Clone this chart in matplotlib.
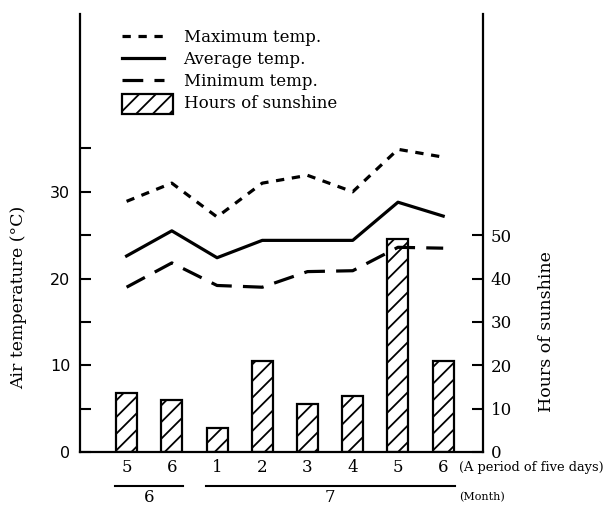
import numpy as np
import matplotlib
matplotlib.use('Agg')
import matplotlib.pyplot as plt
import matplotlib.patches as mpatches
import matplotlib.transforms as mtransforms
from matplotlib.legend_handler import HandlerPatch

# values
periods = ['5', '6', '1', '2', '3', '4', '5', '6']
months = ['6', '6', '7', '7', '7', '7', '7', '7']
maxTemp = [28.9, 31.0, 27.1, 31.0, 31.9, 30.0, 34.9, 34.0]
avgTemp = [22.6, 25.5, 22.4, 24.4, 24.4, 24.4, 28.8, 27.2]
minTemp = [19.0, 21.8, 19.2, 19.0, 20.8, 20.9, 23.6, 23.5]
sunshine = [13.6, 11.9, 5.6, 20.9, 11.0, 12.9, 49.1, 20.9]

plt.rcParams['font.family'] = 'DejaVu Serif'
plt.rcParams['font.size'] = 12
plt.rcParams['hatch.linewidth'] = 1.3


def bigBox(legend, orig_handle, xdescent, ydescent, width, height, fontsize):
    # the sunshine key is wider and taller than the line keys
    return mpatches.Rectangle((-xdescent, -ydescent - 0.55 * height), width * 1.23, height * 1.75)


def main():
    x = np.arange(len(periods))
    fig = plt.figure(figsize=(6.07, 5.05), dpi=100)
    ax = fig.add_axes([80 / 607, 1 - 452 / 505, 403 / 607, 438 / 505])
    ax2 = ax.twinx()
    # bars behind the lines
    ax.set_zorder(ax2.get_zorder() + 1)
    ax.patch.set_visible(False)

    bars = ax2.bar(x, sunshine, width=0.465, color='white', edgecolor='black',
                   linewidth=1.6, hatch='//')
    lMax, = ax.plot(x, maxTemp, color='black', lw=2.3, dashes=(2.6, 2.4))
    lAvg, = ax.plot(x, avgTemp, color='black', lw=2.3)
    lMin, = ax.plot(x, minTemp, color='black', lw=2.3, dashes=(6.5, 3.5))

    ax.set_xlim(-1.03, 7.88)
    ax.set_ylim(0, 50.5)
    ax2.set_ylim(0, 101)

    ax.set_yticks(np.arange(0, 36, 5))
    ax.set_yticklabels(['0', '', '10', '', '20', '', '30', ''], family='DejaVu Sans', fontsize=11.5)
    ax.tick_params(axis='y', direction='in', length=8, width=1.5, pad=7)
    ax2.set_yticks(np.arange(0, 51, 10))
    ax2.tick_params(axis='y', direction='in', length=8, width=1.5, pad=5.5)
    ax.set_xticks(x)
    ax.set_xticklabels(periods)
    ax.tick_params(axis='x', length=0, pad=5)

    for s in ['top', 'right']:
        ax.spines[s].set_visible(False)
    for s in ['top', 'left', 'bottom']:
        ax2.spines[s].set_visible(False)
    ax.spines['left'].set_linewidth(1.6)
    ax.spines['bottom'].set_linewidth(1.6)
    ax2.spines['right'].set_linewidth(1.6)

    ax.set_ylabel('Air temperature (°C)', fontsize=12.5)
    ax.yaxis.set_label_coords(-0.131, 0.352)
    ax2.set_ylabel('Hours of sunshine', fontsize=12.5)
    ax2.yaxis.set_label_coords(1.136, 0.276)

    # month underlines below the five-day periods
    trans = mtransforms.blended_transform_factory(ax.transData, ax.transAxes)
    groups = []
    for i, m in enumerate(months):
        if groups and groups[-1][0] == m:
            groups[-1][2] = i
        else:
            groups.append([m, i, i])
    for m, a, b in groups:
        ax.plot([a - 0.25, b + 0.25], [-0.0776, -0.0776], transform=trans,
                color='black', lw=1.5, clip_on=False)
        ax.text((a + b) / 2, -0.103, m, transform=trans, ha='center', va='center')

    ax.text(0.94, -0.0365, '(A period of five days)', transform=ax.transAxes,
            ha='left', va='center', fontsize=9.4)
    ax.text(0.94, -0.103, '(Month)', transform=ax.transAxes,
            ha='left', va='center', fontsize=8)

    ax.legend(handles=[lMax, lAvg, lMin, bars.patches[0]],
              labels=['Maximum temp.', 'Average temp.', 'Minimum temp.', 'Hours of sunshine'],
              loc='upper left', bbox_to_anchor=(0.104, 0.966), frameon=False, borderpad=0,
              borderaxespad=0, handlelength=2.5, handletextpad=1.2,
              labelspacing=0.3, fontsize=12,
              handler_map={mpatches.Rectangle: HandlerPatch(patch_func=bigBox)})

    fig.savefig('out.png', dpi=100)


if __name__ == "__main__":
    main()
